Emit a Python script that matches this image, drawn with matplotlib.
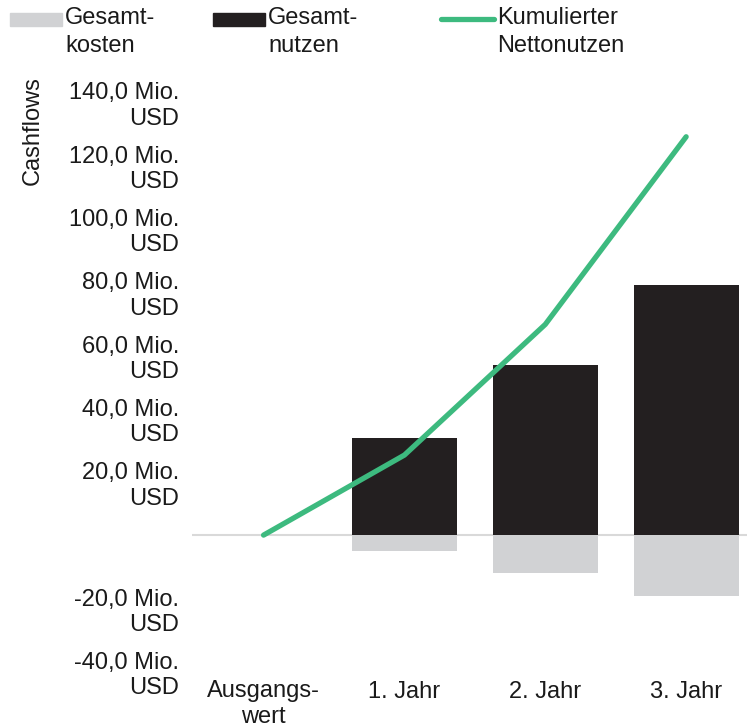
import matplotlib.pyplot as plt
import matplotlib.transforms as mtransforms
from matplotlib.lines import Line2D
from matplotlib.patches import Rectangle
import numpy as np

plt.rcParams["font.family"] = ["Liberation Sans", "DejaVu Sans"]

categories = ["Ausgangs-\nwert", "1. Jahr", "2. Jahr", "3. Jahr"]
benefits = [0, 30.6, 53.7, 79.0]
costs = [0, -5.1, -12.0, -19.3]
cumulative = [0, 25.3, 66.6, 125.9]
yticks = [-40, -20, 20, 40, 60, 80, 100, 120, 140]
ytick_labels = [f"{v:.1f}".replace(".", ",") + " Mio.\nUSD" for v in yticks]

GRAY = "#d1d2d4"
BLACK = "#231f20"
GREEN = "#3dba7f"
TEXT = "#1a1a1a"
FS = 17

W, H = 747, 727
fig = plt.figure(figsize=(W / 100, H / 100), dpi=100)
ax = fig.add_axes([192 / W, 1 - 668 / H, (747 - 192) / W, (668 - 70) / H])

x = np.arange(len(categories))
ax.axhline(0, color="#d9d9d9", lw=1.5, zorder=1)
ax.bar(x, costs, width=0.745, color=GRAY, zorder=2)
ax.bar(x, benefits, width=0.745, color=BLACK, zorder=2)
ax.plot(x, cumulative, color=GREEN, lw=3.8, solid_capstyle="round", zorder=3)

ax.set_xlim(-0.508, 3.432)
ax.set_ylim(-42, 147)
ax.set_xticks(x)
ax.set_xticklabels(categories, fontsize=FS, color=TEXT, linespacing=1.2)
ax.set_yticks(yticks)
ax.set_yticklabels(ytick_labels, fontsize=FS, color=TEXT, linespacing=1.2)
ax.tick_params(length=0)
ax.tick_params(axis="y", pad=9)
ax.tick_params(axis="x", pad=9)
for s in ax.spines.values():
    s.set_visible(False)

shift = mtransforms.ScaledTranslation(0, 7 / 72, fig.dpi_scale_trans)
for lab in ax.get_yticklabels():
    lab.set_va("top")
    lab.set_transform(lab.get_transform() + shift)

fig.text(33 / W, 1 - 131 / H, "Cashflows", rotation=90, fontsize=FS,
         color=TEXT, ha="center", va="center")

# legend drawn by hand
def fx(px):
    return px / W


def fy(py):
    return 1 - py / H


fig.add_artist(Rectangle((fx(10), fy(26)), 52 / W, 13 / H, color=GRAY,
                         transform=fig.transFigure))
fig.add_artist(Rectangle((fx(213), fy(26)), 52 / W, 13 / H, color=BLACK,
                         transform=fig.transFigure))
fig.add_artist(Line2D([fx(441), fx(494)], [fy(19), fy(19)], color=GREEN,
                      lw=3.8, solid_capstyle="round", transform=fig.transFigure))
for px, label in [(65, "Gesamt-\nkosten"), (268, "Gesamt-\nnutzen"),
                  (497, "Kumulierter\nNettonutzen")]:
    fig.text(fx(px), fy(7), label, fontsize=FS, color=TEXT, ha="left",
             va="top", linespacing=1.36)

fig.savefig("out.png", dpi=100)
